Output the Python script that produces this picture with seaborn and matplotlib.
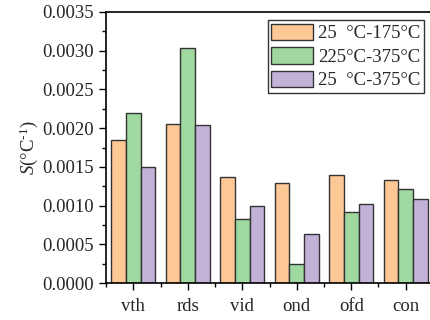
import matplotlib
matplotlib.use("Agg")
import matplotlib.pyplot as plt
import seaborn as sns
import pandas as pd
import numpy as np
from matplotlib.ticker import MultipleLocator, FixedLocator

categories = ["vth", "rds", "vid", "ond", "ofd", "con"]
series_names = ["25  °C-175°C", "225°C-375°C", "25  °C-375°C"]
s1 = [0.00185, 0.00205, 0.00137, 0.00129, 0.00139, 0.00133]
s2 = [0.00219, 0.00303, 0.00083, 0.00025, 0.00092, 0.00122]
s3 = [0.00150, 0.00204, 0.00100, 0.00063, 0.00102, 0.00108]
colors = ["#FDC896", "#9FD9A0", "#C2B2D8"]

rows = []
for name, vals in zip(series_names, [s1, s2, s3]):
    for c, v in zip(categories, vals):
        rows.append({"cat": c, "series": name, "S": v})
df = pd.DataFrame(rows)

sns.set_theme(style="white")
plt.rcParams["font.family"] = ["Liberation Serif", "DejaVu Serif"]
plt.rcParams["mathtext.fontset"] = "custom"
plt.rcParams["mathtext.rm"] = "Liberation Serif"
plt.rcParams["mathtext.it"] = "Liberation Serif:italic"

fig = plt.figure(figsize=(4.3, 3.2), dpi=100)
ax = fig.add_axes([106/430, 37/320, 327/430, 271/320])
sns.barplot(data=df, x="cat", y="S", hue="series", palette=colors,
            width=0.8, edgecolor="#333333", linewidth=1.0, saturation=1,
            ax=ax)

ax.set_xlim(-0.5, 5.5)
ax.set_ylim(0, 0.0035)
ax.yaxis.set_major_locator(MultipleLocator(0.0005))
ax.yaxis.set_minor_locator(MultipleLocator(0.00025))
ax.yaxis.set_major_formatter(matplotlib.ticker.FormatStrFormatter("%.4f"))
ax.xaxis.set_minor_locator(FixedLocator(np.arange(-0.5, 6.0, 1.0)))
ax.tick_params(axis="both", which="major", direction="out", length=5, width=1,
               labelsize=13.5, color="black", left=True, bottom=True)
ax.tick_params(axis="both", which="minor", direction="out", length=3, width=1,
               color="black", left=True, bottom=True)
ax.tick_params(axis="x", pad=6)
for s in ["left", "bottom", "top"]:
    ax.spines[s].set_color("black")
    ax.spines[s].set_linewidth(1.2)
ax.spines["right"].set_visible(False)
ax.set_xlabel("")
ax.set_ylabel(r"$S$(°C$^{\text{-1}}$)", fontsize=13.5, labelpad=2)

leg = ax.legend(loc="upper right", bbox_to_anchor=(0.985, 0.985), fontsize=13.5,
                frameon=True, fancybox=False, edgecolor="black",
                handlelength=2.2, handleheight=1.0, labelspacing=0.25,
                handletextpad=0.3, borderpad=0.2, borderaxespad=0.2)
leg.get_frame().set_linewidth(1.0)

fig.savefig("out.png", dpi=100)
